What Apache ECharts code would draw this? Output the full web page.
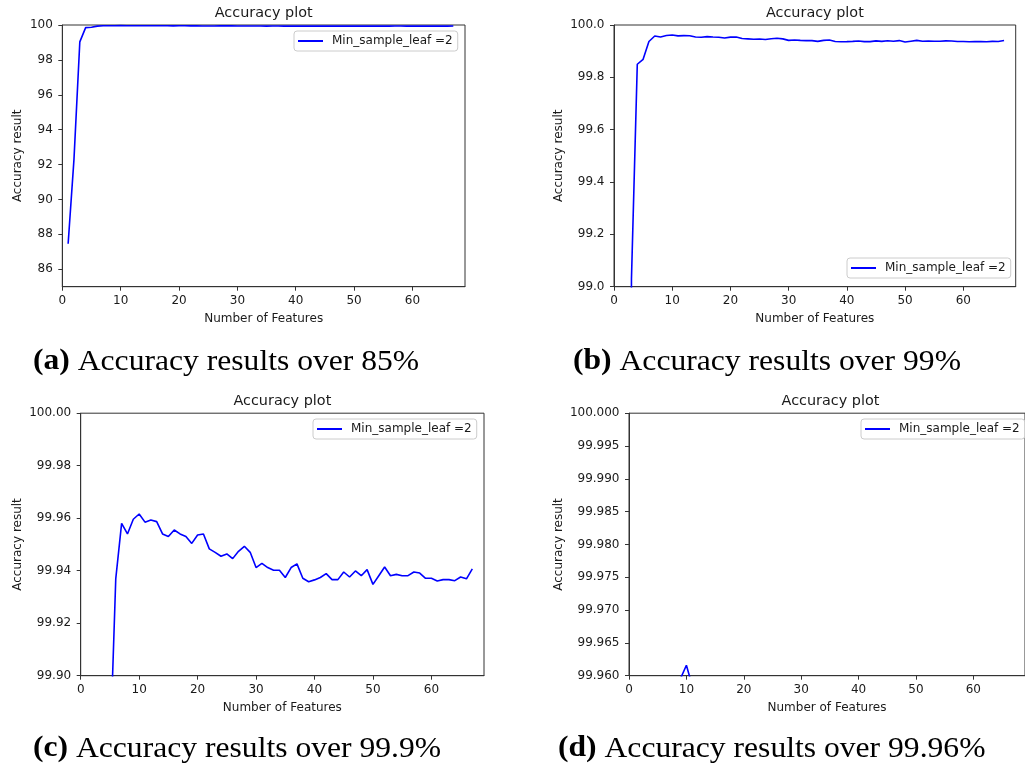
<!DOCTYPE html>
<html>
<head>
<meta charset="utf-8">
<title>Accuracy plot</title>
<script src="https://cdn.jsdelivr.net/npm/echarts@6.0.0/dist/echarts.min.js"></script>
<style>
  html, body { margin: 0; padding: 0; background: #ffffff; }
  #chart { width: 1025px; height: 770px; }
</style>
</head>
<body>
<div id="chart"></div>
<script>
// Number of features used by the model
const features = [
  1, 2, 3, 4, 5, 6, 7, 8, 9, 10,
  11, 12, 13, 14, 15, 16, 17, 18, 19, 20,
  21, 22, 23, 24, 25, 26, 27, 28, 29, 30,
  31, 32, 33, 34, 35, 36, 37, 38, 39, 40,
  41, 42, 43, 44, 45, 46, 47, 48, 49, 50,
  51, 52, 53, 54, 55, 56, 57, 58, 59, 60,
  61, 62, 63, 64, 65, 66, 67
];

// Accuracy (%) for each feature count, Min_sample_leaf = 2
const accuracy = [
  87.46, 92.30, 99.03, 99.850, 99.869, 99.937, 99.958, 99.954, 99.9596, 99.9616,
  99.9585, 99.9593, 99.9587, 99.9540, 99.9530, 99.9555, 99.9540, 99.9530, 99.9504, 99.9536,
  99.9540, 99.9483, 99.9470, 99.9455, 99.9464, 99.9446, 99.9474, 99.9493, 99.9470, 99.9412,
  99.9428, 99.9412, 99.9402, 99.9402, 99.9374, 99.9412, 99.9426, 99.9371, 99.9358, 99.9365,
  99.9374, 99.9389, 99.9366, 99.9366, 99.9395, 99.9376, 99.9399, 99.9381, 99.9404, 99.9348,
  99.9381, 99.9414, 99.9381, 99.9386, 99.9381, 99.9381, 99.9395, 99.9391, 99.9371, 99.9371,
  99.9361, 99.9366, 99.9366, 99.9362, 99.9376, 99.9369, 99.9407
];

const seriesName = 'Min_sample_leaf =2';
const plotTitle = 'Accuracy plot';
const xAxisTitle = 'Number of Features';
const yAxisTitle = 'Accuracy result';

// Tick values
const xTicks = [0, 10, 20, 30, 40, 50, 60];
const yTicksA = [86, 88, 90, 92, 94, 96, 98, 100];
const yTicksB = [99.0, 99.2, 99.4, 99.6, 99.8, 100.0];
const yTicksC = [99.90, 99.92, 99.94, 99.96, 99.98, 100.00];
const yTicksD = [99.960, 99.965, 99.970, 99.975, 99.980, 99.985, 99.990, 99.995, 100.000];

// Sub-figure captions
const captionTags = ['(a)', '(b)', '(c)', '(d)'];
const captionTexts = [
  'Accuracy results over 85%',
  'Accuracy results over 99%',
  'Accuracy results over 99.9%',
  'Accuracy results over 99.96%'
];

const points = features.map((f, i) => [f, accuracy[i]]);

const FONT = 'DejaVu Sans';
const INK = '#1a1a1a';

// Layout of the four panels (pixels)
const panels = [
  { left: 62.3, top: 25, width: 402.7, height: 261.7, yMin: 85, yMax: 100, ticks: yTicksA, dec: 0,
    legend: { left: 294, top: 31 }, yGap: 38, caption: { x: 33, y: 362 } },
  { left: 614, top: 25, width: 401.7, height: 261.7, yMin: 99.0, yMax: 100.0, ticks: yTicksB, dec: 1,
    legend: { left: 847, top: 258 }, yGap: 49.5, caption: { x: 573, y: 362 } },
  { left: 80.7, top: 413.2, width: 403.3, height: 262.5, yMin: 99.90, yMax: 100.00, ticks: yTicksC, dec: 2,
    legend: { left: 313, top: 419 }, yGap: 56.5, caption: { x: 33, y: 749 } },
  { left: 629, top: 413.2, width: 403, height: 262.5, yMin: 99.960, yMax: 100.000, ticks: yTicksD, dec: 3,
    legend: { left: 861, top: 419 }, yGap: 64.5, caption: { x: 558, y: 749 } }
];

const grid = [], xAxis = [], yAxis = [], series = [], legend = [], graphic = [];

panels.forEach((p, i) => {
  grid.push({
    left: p.left, top: p.top, width: p.width, height: p.height,
    show: true, borderColor: '#333333', borderWidth: 1, backgroundColor: '#ffffff',
    containLabel: false
  });
  xAxis.push({
    type: 'value', gridIndex: i, min: 0, max: 69,
    name: xAxisTitle, nameLocation: 'middle', nameGap: 26,
    nameTextStyle: { fontFamily: FONT, fontSize: 12, color: INK },
    axisLine: { show: true, onZero: false, lineStyle: { color: '#333333', width: 1 } },
    axisTick: { show: true, inside: false, length: 4, customValues: xTicks, lineStyle: { color: '#333333' } },
    axisLabel: { customValues: xTicks, margin: 8, fontFamily: FONT, fontSize: 12, color: INK },
    splitLine: { show: false }
  });
  yAxis.push({
    type: 'value', gridIndex: i, min: p.yMin, max: p.yMax,
    name: yAxisTitle, nameLocation: 'middle', nameGap: p.yGap,
    nameTextStyle: { fontFamily: FONT, fontSize: 12, color: INK },
    axisLine: { show: true, onZero: false, lineStyle: { color: '#333333', width: 1 } },
    axisTick: { show: true, inside: false, length: 4, customValues: p.ticks, lineStyle: { color: '#333333' } },
    axisLabel: {
      customValues: p.ticks, margin: 9.5, fontFamily: FONT, fontSize: 12, color: INK,
      formatter: v => Number(v).toFixed(p.dec)
    },
    splitLine: { show: false }
  });
  series.push({
    name: seriesName, type: 'line', xAxisIndex: i, yAxisIndex: i,
    data: points, symbol: 'none', clip: true,
    lineStyle: { color: '#0000ff', width: 1.6 },
    itemStyle: { color: '#0000ff' }
  });
  legend.push({
    left: p.legend.left, top: p.legend.top, orient: 'horizontal',
    data: [{ name: seriesName }],
    icon: 'rect', itemWidth: 25, itemHeight: 2,
    padding: [4, 5, 4, 4],
    backgroundColor: '#ffffff', borderColor: '#cccccc', borderWidth: 1, borderRadius: 3,
    selectedMode: false,
    textStyle: { fontFamily: FONT, fontSize: 12, color: INK, padding: [0, 0, 0, 4] }
  });
  // panel title
  graphic.push({
    type: 'text', x: p.left + p.width / 2, y: p.top - 11.5,
    style: { text: plotTitle, align: 'center', verticalAlign: 'middle',
             font: '14.4px "' + FONT + '"', fill: INK }
  });
  // sub-figure caption
  graphic.push({
    type: 'text', x: p.caption.x, y: p.caption.y, scaleX: 1.09,
    style: {
      text: '{tag|' + captionTags[i] + '} ' + captionTexts[i],
      verticalAlign: 'middle', align: 'left',
      font: '29px "Liberation Serif"', fill: '#000000',
      rich: { tag: { fontWeight: 'bold', fontFamily: 'Liberation Serif', fontSize: 29, fill: '#000000' } }
    }
  });
});

const chart = echarts.init(document.getElementById('chart'), null, { renderer: 'canvas' });
chart.setOption({
  animation: false,
  backgroundColor: '#ffffff',
  grid, xAxis, yAxis, series, legend, graphic
});
</script>
</body>
</html>
